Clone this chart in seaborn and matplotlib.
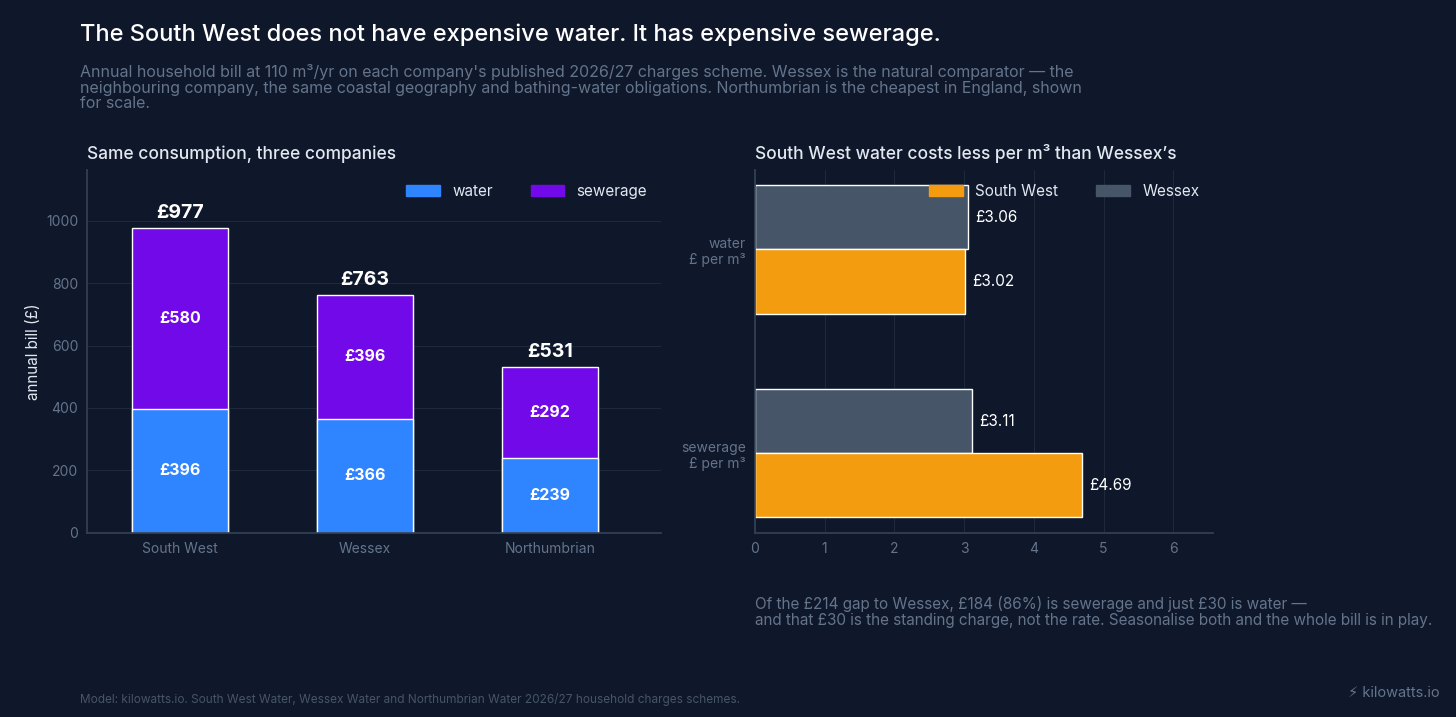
import matplotlib
matplotlib.use("Agg")
import matplotlib.pyplot as plt
import seaborn as sns
import pandas as pd
from matplotlib.patches import Patch

companies = ["South West", "Wessex", "Northumbrian"]
water = [396, 366, 239]
sewerage = [580, 396, 292]
totals = [977, 763, 531]

rate_cats = ["water", "sewerage"]
rate_south_west = [3.02, 4.69]
rate_wessex = [3.06, 3.11]

BG = "#0f172a"
GRID = "#1e293b"
MUTED = "#64748b"
TXT = "#e2e8f0"
C_WATER = "#2f84ff"
C_SEW = "#7209e8"
C_SW = "#f39c0f"
C_WX = "#475569"

sns.set_theme(style="dark")
plt.rcParams["font.family"] = ["Inter", "DejaVu Sans"]

fig = plt.figure(figsize=(14.56, 7.17), dpi=100, facecolor=BG)

def style(ax):
    ax.set_facecolor(BG)
    for s in ["top", "right"]:
        ax.spines[s].set_visible(False)
    for s in ["left", "bottom"]:
        ax.spines[s].set_color("#334155")
    ax.tick_params(colors=MUTED, labelsize=10, length=3, color="#334155")
    ax.grid(True, color=GRID, linewidth=0.8)
    ax.set_axisbelow(True)

# Left chart
ax1 = fig.add_axes([0.060, 0.257, 0.394, 0.506])
style(ax1)
df1 = pd.DataFrame({"company": companies, "water": water, "sewerage": sewerage, "total": totals})
sns.barplot(data=df1, x="company", y="total", color=C_SEW, width=0.52, saturation=1, ax=ax1)
sns.barplot(data=df1, x="company", y="water", color=C_WATER, width=0.52, saturation=1, ax=ax1)
for i in range(3):
    ax1.text(i, water[i] / 2, f"£{water[i]}", ha="center", va="center", color="white", fontsize=11.5, fontweight="bold")
    ax1.text(i, water[i] + sewerage[i] / 2, f"£{sewerage[i]}", ha="center", va="center", color="white", fontsize=11.5, fontweight="bold")
    ax1.text(i, totals[i] + 18, f"£{totals[i]}", ha="center", va="bottom", color="white", fontsize=14, fontweight="bold")
ax1.set_ylim(0, 1163)
ax1.set_xlim(-0.5, 2.6)
ax1.set_yticks([0, 200, 400, 600, 800, 1000])
ax1.set_xlabel("")
ax1.set_ylabel("annual bill (£)", color=TXT, fontsize=11)
ax1.legend(handles=[Patch(color=C_WATER, label="water"), Patch(color=C_SEW, label="sewerage")],
           loc="upper right", ncol=2, frameon=False, labelcolor=TXT, fontsize=11,
           handlelength=2.2, columnspacing=2.5)
ax1.text(0.0, 1.03, "Same consumption, three companies", transform=ax1.transAxes,
         color=TXT, fontsize=12.5, fontweight="medium")

# Right chart
ax2 = fig.add_axes([0.5185, 0.257, 0.3146, 0.506])
style(ax2)
df2 = pd.DataFrame({
    "cat": rate_cats * 2,
    "company": ["Wessex"] * 2 + ["South West"] * 2,
    "rate": rate_wessex + rate_south_west,
})
sns.barplot(data=df2, y="cat", x="rate", hue="company", hue_order=["Wessex", "South West"],
            palette={"Wessex": C_WX, "South West": C_SW}, width=0.63, saturation=1,
            orient="h", ax=ax2, legend=False)
for i in range(2):
    ax2.text(rate_wessex[i] + 0.1, i - 0.1575, f"£{rate_wessex[i]:.2f}", va="center", color="white", fontsize=11)
    ax2.text(rate_south_west[i] + 0.1, i + 0.1575, f"£{rate_south_west[i]:.2f}", va="center", color="white", fontsize=11)
ax2.set_xlim(0, 6.57)
ax2.set_ylim(1.39, -0.39)
ax2.set_xticks(range(7))
ax2.set_yticks([0, 1])
ax2.set_yticklabels(["water\n£ per m³", "sewerage\n£ per m³"], ha="right")
ax2.set_xlabel("")
ax2.set_ylabel("")
ax2.legend(handles=[Patch(color=C_SW, label="South West"), Patch(color=C_WX, label="Wessex")],
           loc="upper right", ncol=2, frameon=False, labelcolor=TXT, fontsize=11,
           handlelength=2.2, columnspacing=2.5, bbox_to_anchor=(1.0, 1.0))
ax2.text(0.0, 1.03, "South West water costs less per m³ than Wessex’s", transform=ax2.transAxes,
         color=TXT, fontsize=12.5, fontweight="medium")

fig.text(80 / 1456, 1 - 35 / 717, "The South West does not have expensive water. It has expensive sewerage.",
         color="white", fontsize=17, fontweight="medium", va="center")
fig.text(80 / 1456, 1 - 64 / 717,
         "Annual household bill at 110 m³/yr on each company's published 2026/27 charges scheme. Wessex is the natural comparator — the\n"
         "neighbouring company, the same coastal geography and bathing-water obligations. Northumbrian is the cheapest in England, shown\n"
         "for scale.", color=MUTED, fontsize=11.5, va="top", linespacing=1.05)
fig.text(755 / 1456, 1 - 612 / 717,
         "Of the £214 gap to Wessex, £184 (86%) is sewerage and just £30 is water —\n"
         "and that £30 is the standing charge, not the rate. Seasonalise both and the whole bill is in play.",
         color=MUTED, fontsize=11, va="center", linespacing=1.15)
fig.text(80 / 1456, 1 - 699 / 717,
         "Model: kilowatts.io. South West Water, Wessex Water and Northumbrian Water 2026/27 household charges schemes.",
         color="#475569", fontsize=8.5, va="center")
fig.text(1440 / 1456, 1 - 693 / 717, "⚡ kilowatts.io", color=MUTED, fontsize=10.5, ha="right", va="center",
         family=["Inter", "DejaVu Sans"])

fig.savefig("out.png", dpi=100, facecolor=BG)
